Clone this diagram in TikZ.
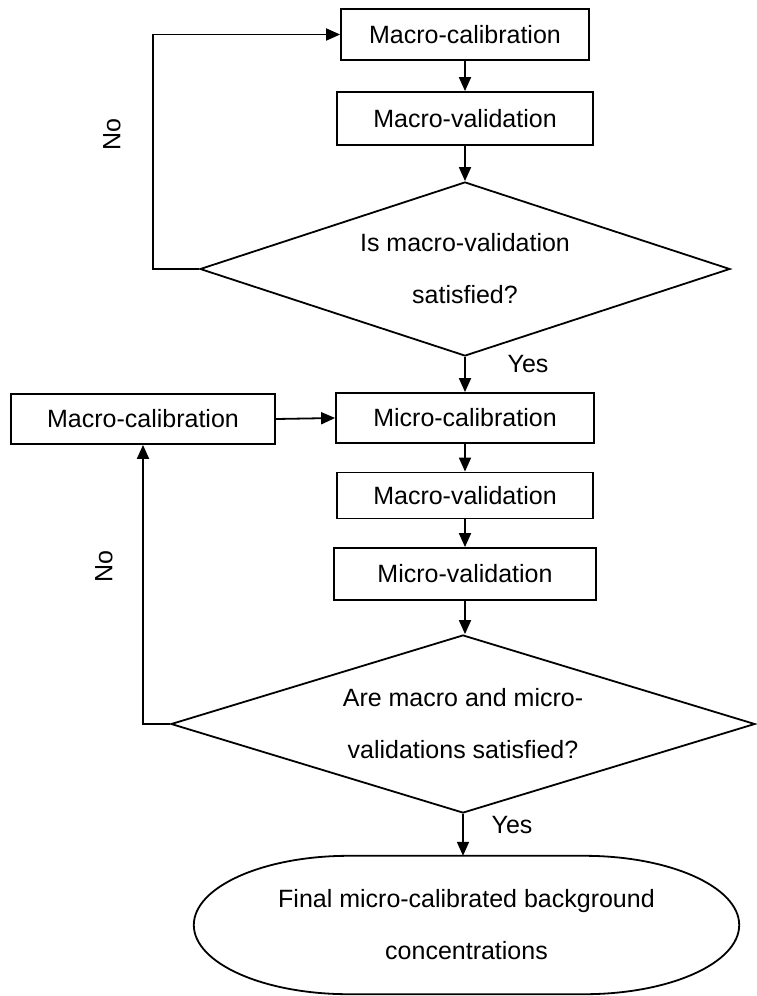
\documentclass[tikz,border=0pt]{standalone}
\usepackage{fontspec}
\setmainfont{Liberation Sans}
\usetikzlibrary{shapes.geometric,arrows.meta,calc}
\begin{document}
\begin{tikzpicture}[x=1pt,y=-1pt,
  every node/.style={font=\fontsize{25}{52}\selectfont},
  procbox/.style={draw,line width=1.8pt,rectangle,inner sep=0pt},
  decision/.style={draw,line width=1.8pt,diamond,inner sep=0pt,align=center},
  terminal/.style={rectangle,inner sep=0pt,align=center},
  outline/.style={line width=1.8pt},
  arr/.style={line width=1.8pt,-{Triangle[length=14pt,width=12pt]}},
  lbl/.style={inner sep=0pt}]
\useasboundingbox (0,0) rectangle (756,996);
\node[procbox,minimum width=248pt,minimum height=51pt] (b1) at (465,34.5) {Macro-calibration};
\node[procbox,minimum width=256pt,minimum height=53pt] (b2) at (465,118.5) {Macro-validation};
\node[decision,aspect=3.05,minimum width=530pt,minimum height=174pt] (d1) at (465,269) {Is macro-validation\\satisfied?};
\node[procbox,minimum width=264pt,minimum height=50pt] (b3) at (143,419) {Macro-calibration};
\node[procbox,minimum width=258pt,minimum height=50pt] (b4) at (465,418) {Micro-calibration};
\node[procbox,minimum width=256pt,minimum height=46pt] (b5) at (465,495.5) {Macro-validation};
\node[procbox,minimum width=262pt,minimum height=52pt] (b6) at (465,574) {Micro-validation};
\node[decision,aspect=3.28,minimum width=584pt,minimum height=178pt] (d2) at (463,724) {Are macro and micro-\\validations satisfied?};
\node[terminal,minimum width=545pt,minimum height=138pt] (t) at (466.5,925) {Final micro-calibrated background\\concentrations};
\draw[outline] ($(t.north west)+(155,0)$) -- ($(t.north east)+(-155,0)$)
  .. controls ($(t.north east)+(-155+85.6,0)$) and ($(t.east)+(0,-38.1)$) .. (t.east)
  .. controls ($(t.east)+(0,38.1)$) and ($(t.south east)+(-155+85.6,0)$) .. ($(t.south east)+(-155,0)$)
  -- ($(t.south west)+(155,0)$)
  .. controls ($(t.south west)+(155-85.6,0)$) and ($(t.west)+(0,38.1)$) .. (t.west)
  .. controls ($(t.west)+(0,-38.1)$) and ($(t.north west)+(155-85.6,0)$) .. ($(t.north west)+(155,0)$) -- cycle;
\coordinate (c1) at (153,34.5);
\draw[arr] (b1) -- (b2);
\draw[arr] (b2) -- (d1);
\draw[arr] (d1.west) -| (c1) -- (b1.west);
\draw[arr] (d1.south) -- (d1.south |- b4.north);
\draw[arr] (b3.east) -- (b4.west);
\draw[arr] (b4) -- (b5);
\draw[arr] (b5) -- (b6);
\draw[arr] (b6.south) -- (b6.south |- d2.north);
\draw[arr] (d2.west) -| (b3.south);
\draw[arr] (d2.south) -- (d2.south |- t.north);
\node[lbl,rotate=90] (no1) at (112,135) {No};
\node[lbl,rotate=90] (no2) at (104,567) {No};
\node[lbl] (yes1) at (528,364) {Yes};
\node[lbl] (yes2) at (512,825) {Yes};
\end{tikzpicture}
\end{document}
